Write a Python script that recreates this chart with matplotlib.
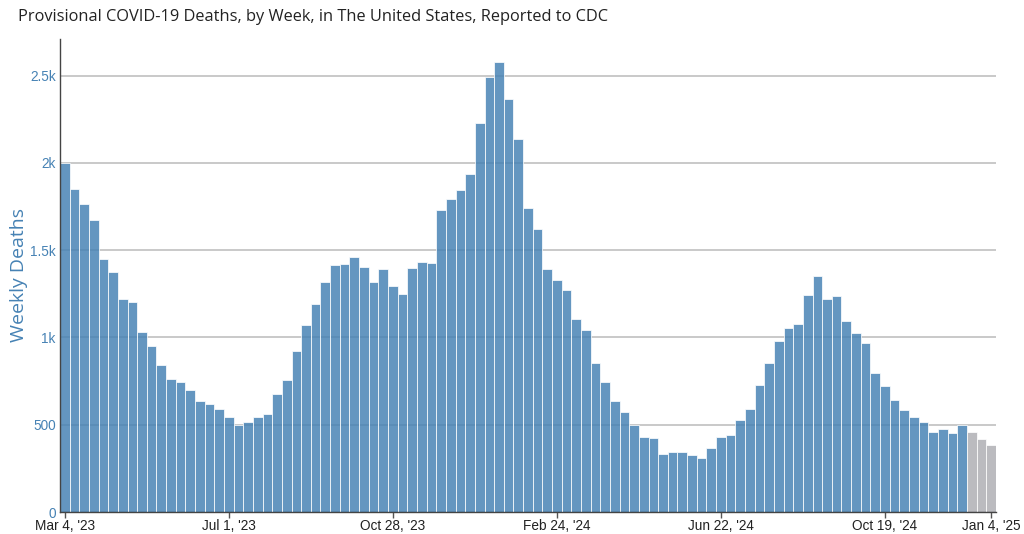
import matplotlib
matplotlib.use("Agg")
import matplotlib.pyplot as plt
import pandas as pd
import numpy as np

# ---- data ----
start_date = "2023-03-04"
deaths = [2000, 1851, 1765, 1672, 1452, 1376, 1220, 1201, 1031, 951,
          842, 764, 746, 699, 638, 617, 588, 546, 499, 516,
          544, 559, 678, 757, 925, 1071, 1191, 1317, 1414, 1422,
          1460, 1401, 1319, 1395, 1296, 1250, 1397, 1433, 1427, 1731,
          1792, 1846, 1937, 2231, 2494, 2580, 2365, 2136, 1744, 1620,
          1391, 1327, 1270, 1103, 1040, 853, 743, 634, 571, 500,
          427, 425, 335, 341, 345, 327, 312, 366, 431, 444,
          527, 588, 726, 856, 979, 1057, 1079, 1245, 1352, 1220,
          1237, 1096, 1027, 969, 797, 724, 640, 586, 544, 515,
          456, 473, 450, 500, 458, 416, 383]
n_provisional = 3  # last weeks shown in gray (incomplete data)
tick_dates = ["2023-03-04", "2023-07-01", "2023-10-28", "2024-02-24",
              "2024-06-22", "2024-10-19", "2025-01-04"]
tick_labels = ["Mar 4, '23", "Jul 1, '23", "Oct 28, '23", "Feb 24, '24",
               "Jun 22, '24", "Oct 19, '24", "Jan 4, '25"]
ytick_vals = [0, 500, 1000, 1500, 2000, 2500]
ytick_labels = ["0", "500", "1k", "1.5k", "2k", "2.5k"]

title = "Provisional COVID-19 Deaths, by Week, in The United States, Reported to CDC"
ylabel = "Weekly Deaths"

# ---- figure ----
dates = pd.date_range(start_date, periods=len(deaths), freq="7D")
blue = (70/255, 130/255, 180/255, 0.84)
gray = (170/255, 170/255, 175/255, 0.80)
colors = [blue] * (len(deaths) - n_provisional) + [gray] * n_provisional

fig = plt.figure(figsize=(10.24, 5.34), dpi=100)
ax = fig.add_axes([60/1024, 22/534, 936/1024, 473/534])

ax.bar(dates, deaths, width=7.0, color=colors, edgecolor=(1, 1, 1, 0.75),
       linewidth=0.7, zorder=2)

ax.set_ylim(0, 2710)
ax.set_xlim(dates[0] - pd.Timedelta(days=3.5), dates[-1] + pd.Timedelta(days=3.6))

ax.set_yticks(ytick_vals)
ax.set_yticklabels(ytick_labels, color="#4682B4", fontsize=9.8,
                   family=["Liberation Sans", "DejaVu Sans"])
ax.yaxis.grid(True, color="#c0c0c0", linewidth=1.2, zorder=0)
ax.set_axisbelow(True)
ax.tick_params(axis="y", length=0, pad=3)

ax.set_xticks(pd.to_datetime(tick_dates))
ax.set_xticklabels(tick_labels, color="#222222", fontsize=9.8,
                   family=["Liberation Sans", "DejaVu Sans"])
ax.tick_params(axis="x", length=4, width=1, color="#555555", pad=1)

for s in ["top", "right"]:
    ax.spines[s].set_visible(False)
for s in ["left", "bottom"]:
    ax.spines[s].set_color("#444444")
    ax.spines[s].set_linewidth(1.0)

ax.set_ylabel(ylabel, color="#4682B4", fontsize=14,
              family=["Open Sans", "DejaVu Sans"])
ax.yaxis.set_label_coords(-32/936, 0.5)

fig.text(18/1024, 1 - 17/534, title, ha="left", va="center", fontsize=11.8,
         color="#222222", family=["Open Sans", "DejaVu Sans"])

fig.savefig("out.png", dpi=100)
